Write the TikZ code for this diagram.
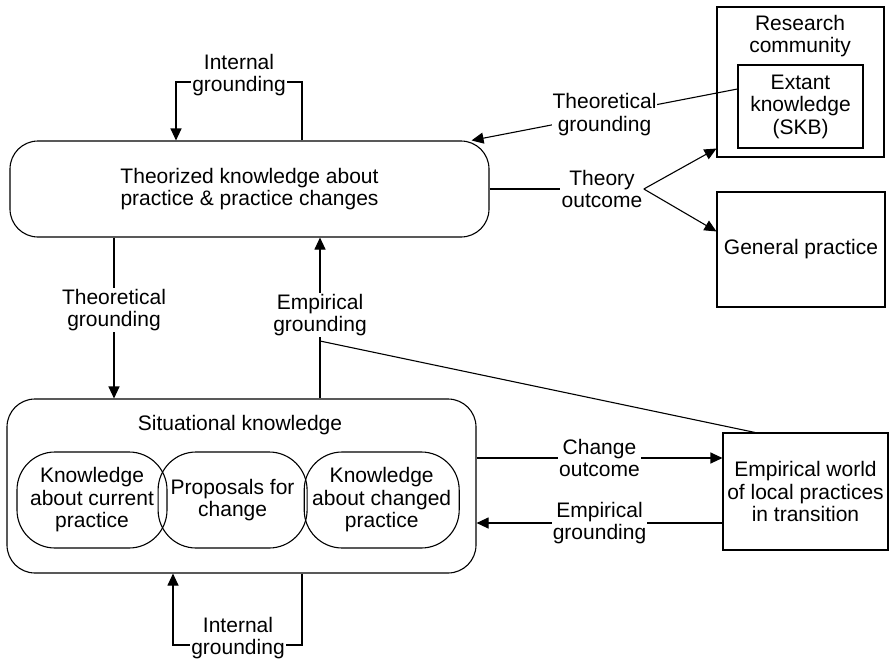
\documentclass[tikz,border=0pt]{standalone}
\usepackage{fontspec}
\setmainfont{Liberation Sans}
\usetikzlibrary{arrows.meta, positioning}
\tikzset{
  box/.style={draw, inner sep=1pt, align=center},
  rbox/.style={box, rounded corners=28pt},
  pillbox/.style={box, rounded corners=38pt, minimum height=96pt},
  lbl/.style={fill=white, inner sep=1pt, align=center},
}

\begin{document}
\begin{tikzpicture}[x=1pt, y=-1pt, >={Triangle[length=12pt,width=11pt]}, line width=1.1pt, font=\fontsize{21}{22.5}\selectfont]
\useasboundingbox (0,0) rectangle (890,661);

% knowledge levels
\node[rbox, minimum width=479pt, minimum height=96pt] (theo) at (249.5,189) {Theorized knowledge about\\practice \& practice changes};
\node[rbox, minimum width=469pt, minimum height=174pt] (sit) at (241.5,486) {};
\node (sittxt) at (240,425) {Situational knowledge};
\node[pillbox, minimum width=150pt] (kcur) at (92,500) {Knowledge\\about current\\practice};
\node[pillbox, minimum width=149pt, right=-10pt of kcur] (prop) {Proposals for\\change};
\node[pillbox, minimum width=155pt, right=-4pt of prop] (kchg) {Knowledge\\about changed\\practice};

% outside world
\node[box, minimum width=167pt, minimum height=150pt] (rc) at (800.5,82) {};
\node[align=center] (rctxt) at (800,36) {Research\\community};
\node[box, minimum width=125pt, minimum height=83pt] (skb) at (800.5,106.5) {Extant\\knowledge\\(SKB)};
\node[box, minimum width=168pt, minimum height=115pt] (gp) at (801,249.5) {General practice};
\node[box, minimum width=165pt, minimum height=117pt] (emp) at (805.5,491.5) {Empirical world\\of local practices\\in transition};

% internal grounding loops
\node[lbl] (igtop) at (239,75) {Internal\\grounding};
\draw ([xshift=52.5]theo.north) |- ([yshift=-7]igtop.east);
\draw[->] ([yshift=-7]igtop.west) -| ([xshift=-73.5]theo.north);
\node[lbl] (igbot) at (238,638) {Internal\\grounding};
\draw ([xshift=60.5]sit.south) |- ([yshift=-7]igbot.east);
\draw[->] ([yshift=-7]igbot.west) -| ([xshift=-68.5]sit.south);

% theory side
\draw[->] ([yshift=17.5]skb.west) -- node[lbl]{Theoretical\\grounding} ([xshift=-18]theo.north east);
\node[lbl] (tho) at (602,189) {Theory\\outcome};
\draw (theo.east) -- (tho);
\draw[->] (tho.east) -- ([yshift=9]rc.south west);
\draw[->] (tho.east) -- ([yshift=-40]gp.north west);
\draw[->] ([xshift=-135.5]theo.south) -- node[lbl, pos=0.45]{Theoretical\\grounding} ([xshift=-127.5]sit.north);

% empirical side
\coordinate (egk) at (320,341);
\draw ([xshift=-50.5]emp.north) -- (egk);
\draw ([xshift=78.5]sit.north) -- (egk);
\draw[->] (egk) -- node[lbl, pos=0.25]{Empirical\\grounding} ([xshift=70.5]theo.south);
\draw[->] ([yshift=28]sit.east) -- node[lbl]{Change\\outcome} ([yshift=33.5]emp.west);
\draw[->] ([yshift=-31.5]emp.west) -- node[lbl]{Empirical\\grounding} ([yshift=-37]sit.east);
\end{tikzpicture}
\end{document}
